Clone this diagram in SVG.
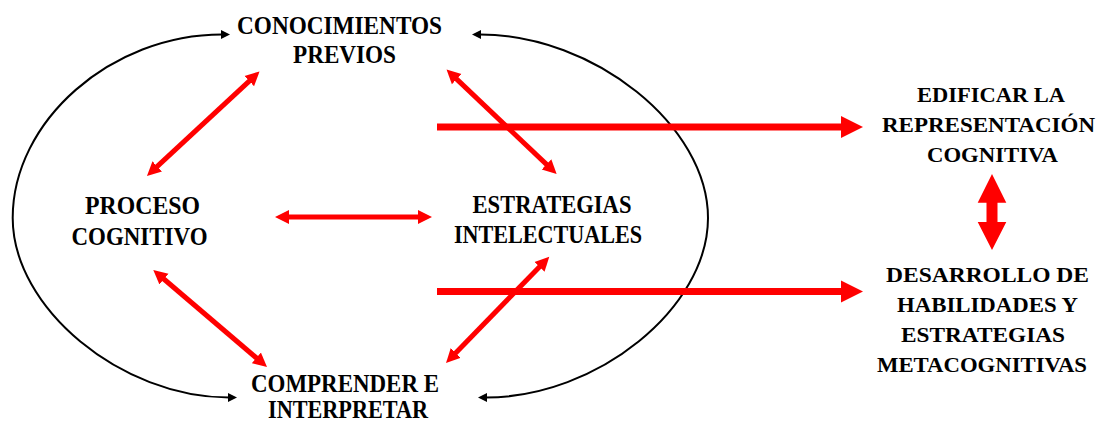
<svg xmlns="http://www.w3.org/2000/svg" width="1097" height="423" viewBox="0 0 1097 423">
  <style>
    .t { font-family: "Liberation Serif", "Times New Roman", serif; font-weight: bold; fill: #000; text-anchor: middle; }
    .c { font-size: 25px; }
    .r { font-size: 22px; }
    .arc { fill: none; stroke: #000; stroke-width: 2; }
    .red { fill: none; stroke: #ff0000; stroke-width: 5; }
    .big { fill: none; stroke: #ff0000; stroke-width: 7; }
  </style>
  <defs>
    <marker id="blk" markerUnits="userSpaceOnUse" markerWidth="12" markerHeight="12" viewBox="0 -6 12 12" refX="1" refY="0" orient="auto-start-reverse">
      <path d="M0,-4.5 L9,0 L0,4.5 z" fill="#000"/>
    </marker>
    <marker id="rh" markerUnits="userSpaceOnUse" markerWidth="16" markerHeight="16" viewBox="0 -8 16 16" refX="4" refY="0" orient="auto-start-reverse">
      <path d="M0,-7 L14,0 L0,7 z" fill="#ff0000"/>
    </marker>
    <marker id="bh" markerUnits="userSpaceOnUse" markerWidth="24" markerHeight="24" viewBox="0 -12 24 24" refX="1" refY="0" orient="auto">
      <path d="M0,-11 L22,0 L0,11 z" fill="#ff0000"/>
    </marker>
  </defs>

  <g id="connectors">
    <path class="arc" d="M222,34.5 C111,34.5 12.7,121 12.7,218 C12.7,308 121,397.5 229,397.5" marker-start="url(#blk)" marker-end="url(#blk)"/>
    <path class="arc" d="M480,34.5 C594,34.5 708,126 708,218 C708,308 597,397.5 486,397.5" marker-start="url(#blk)" marker-end="url(#blk)"/>
    <path class="red" d="M252.2,78.3 L154.3,169.2" marker-start="url(#rh)" marker-end="url(#rh)"/>
    <path class="red" d="M453.8,76.4 L549.4,167.1" marker-start="url(#rh)" marker-end="url(#rh)"/>
    <path class="red" d="M285,217 L422,217" marker-start="url(#rh)" marker-end="url(#rh)"/>
    <path class="red" d="M160.9,276.5 L259.4,360.5" marker-start="url(#rh)" marker-end="url(#rh)"/>
    <path class="red" d="M542.3,263.9 L453,355.8" marker-start="url(#rh)" marker-end="url(#rh)"/>
    <path class="big" d="M437,127 L842,127" marker-end="url(#bh)"/>
    <path class="big" d="M437,291.5 L842,291.5" marker-end="url(#bh)"/>
    <polygon fill="#ff0000" points="992,174 1006.3,202.7 997.5,202.7 997.5,222 1006.3,222 992,250 977.7,222 986.5,222 986.5,202.7 977.7,202.7"/>
  </g>

  <g id="conocimientos">
    <text class="t c" x="339.5" y="34" textLength="205" lengthAdjust="spacingAndGlyphs">CONOCIMIENTOS</text>
    <text class="t c" x="344.5" y="63" textLength="103" lengthAdjust="spacingAndGlyphs">PREVIOS</text>
  </g>
  <g id="proceso">
    <text class="t c" x="142.5" y="213.5" textLength="115" lengthAdjust="spacingAndGlyphs">PROCESO</text>
    <text class="t c" x="139.5" y="245" textLength="136" lengthAdjust="spacingAndGlyphs">COGNITIVO</text>
  </g>
  <g id="estrategias">
    <text class="t c" x="552" y="212.5" textLength="159" lengthAdjust="spacingAndGlyphs">ESTRATEGIAS</text>
    <text class="t c" x="548" y="242.5" textLength="188" lengthAdjust="spacingAndGlyphs">INTELECTUALES</text>
  </g>
  <g id="comprender">
    <text class="t c" x="345" y="392" textLength="188" lengthAdjust="spacingAndGlyphs">COMPRENDER E</text>
    <text class="t c" x="348" y="418" textLength="160" lengthAdjust="spacingAndGlyphs">INTERPRETAR</text>
  </g>
  <g id="edificar">
    <text class="t r" x="991" y="102" textLength="148" lengthAdjust="spacingAndGlyphs">EDIFICAR LA</text>
    <text class="t r" x="988.5" y="132" textLength="213" lengthAdjust="spacingAndGlyphs">REPRESENTACIÓN</text>
    <text class="t r" x="992.5" y="162" textLength="131" lengthAdjust="spacingAndGlyphs">COGNITIVA</text>
  </g>
  <g id="desarrollo">
    <text class="t r" x="987.5" y="282" textLength="203" lengthAdjust="spacingAndGlyphs">DESARROLLO DE</text>
    <text class="t r" x="987.5" y="312" textLength="181" lengthAdjust="spacingAndGlyphs">HABILIDADES Y</text>
    <text class="t r" x="983" y="342" textLength="164" lengthAdjust="spacingAndGlyphs">ESTRATEGIAS</text>
    <text class="t r" x="982" y="372" textLength="210" lengthAdjust="spacingAndGlyphs">METACOGNITIVAS</text>
  </g>
</svg>
